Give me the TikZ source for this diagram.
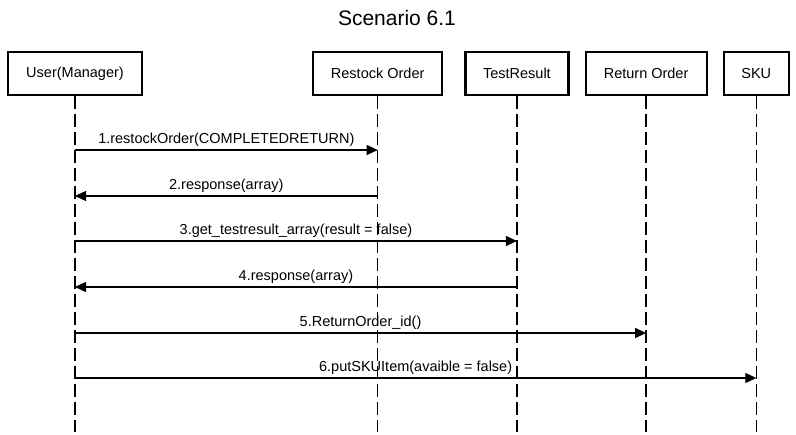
\documentclass[tikz,border=0pt]{standalone}
\usepackage{fontspec}
\setmainfont{Liberation Sans}
\usetikzlibrary{arrows.meta,positioning}

\begin{document}
\begin{tikzpicture}[
  x=1pt, y=-1pt,
  every node/.style={font=\fontsize{14.5}{17}\selectfont},
  actor/.style={rectangle, draw, line width=2.2pt, minimum height=43pt, inner sep=0pt},
  lifeline/.style={line width=1.3pt, dash pattern=on 13pt off 5pt},
  msg/.style={line width=1.3pt, -{Triangle[length=11pt, width=10pt]}},
  lbl/.style={above, inner sep=3pt}
]
  \useasboundingbox (0,0) rectangle (796,435);
  \node[font=\fontsize{21}{25}\selectfont] (title) at (397,18) {Scenario 6.1};

  \node[actor, minimum width=134pt] (user) at (75,73.5) {User(Manager)};
  \node[actor, minimum width=129pt, right=169pt of user] (restock) {Restock Order};
  \node[actor, minimum width=103pt, right=21pt of restock] (test) {TestResult};
  \node[actor, minimum width=121pt, right=15pt of test] (retorder) {Return Order};
  \node[actor, minimum width=65pt, right=15pt of retorder] (sku) {SKU};

  \coordinate (bottom) at (0,432);
  \foreach \a in {user,restock,test,retorder,sku}
    \draw[lifeline] (\a.south) -- (\a.south |- bottom);

  % message rows
  \coordinate (m1) at (0,150);
  \coordinate (m2) at (0,196);
  \coordinate (m3) at (0,241);
  \coordinate (m4) at (0,287);
  \coordinate (m5) at (0,333);
  \coordinate (m6) at (0,378);

  \draw[msg] (user |- m1) -- node[lbl]{1.restockOrder(COMPLETEDRETURN)} (restock |- m1);
  \draw[msg] (restock |- m2) -- node[lbl]{2.response(array)} (user |- m2);
  \draw[msg] (user |- m3) -- node[lbl]{3.get\_testresult\_array(result = false)} (test |- m3);
  \draw[msg] (test |- m4) -- node[lbl]{4.response(array)} (user |- m4);
  \draw[msg] (user |- m5) -- node[lbl]{5.ReturnOrder\_id()} (retorder |- m5);
  \draw[msg] (user |- m6) -- node[lbl]{6.putSKUItem(avaible = false)} (sku |- m6);
\end{tikzpicture}
\end{document}
